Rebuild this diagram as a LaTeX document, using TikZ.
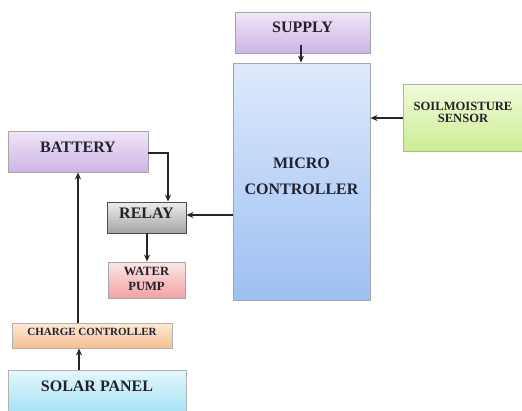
\documentclass[tikz,border=0pt]{standalone}
\usepackage{fontspec}
\setmainfont{Liberation Serif}
\usetikzlibrary{arrows.meta,shadings}
\definecolor{txt}{HTML}{22222C}
\tikzset{
  box/.style={draw=#1, line width=0.9pt, inner sep=0pt, anchor=center},
  purp/.style={box=black!35, top color=purpTop, bottom color=purpBot},
  blu/.style={box=black!35, top color=bluTop, bottom color=bluBot},
  grn/.style={box=black!30, top color=grnTop, bottom color=grnBot},
  gry/.style={box=black!70, top color=gryTop, bottom color=gryBot},
  pnk/.style={box=black!35, top color=pnkTop, bottom color=pnkBot},
  org/.style={box=black!30, top color=orgTop, bottom color=orgBot},
  cya/.style={box=black!30, top color=cyaTop, bottom color=cyaBot},
  big/.style={font=\bfseries\fontsize{16}{26}\selectfont, text=txt, align=center, inner sep=0pt},
  mid/.style={font=\bfseries\fontsize{12.6}{12}\selectfont, text=txt, align=center, inner sep=0pt},
  midp/.style={font=\bfseries\fontsize{12.6}{15}\selectfont, text=txt, align=center, inner sep=0pt},
  sml/.style={font=\bfseries\fontsize{11}{12}\selectfont, text=txt, align=center, inner sep=0pt},
  conn/.style={line width=1.8pt, draw=black!85, -{Stealth[length=7pt,width=6pt]}},
}
\definecolor{purpTop}{HTML}{F0E5F8}\definecolor{purpBot}{HTML}{CDB4E6}
\definecolor{bluTop}{HTML}{DEEAFB}\definecolor{bluBot}{HTML}{9DBFF3}
\definecolor{grnTop}{HTML}{F1FBDA}\definecolor{grnBot}{HTML}{CCED94}
\definecolor{gryTop}{HTML}{EDEDED}\definecolor{gryBot}{HTML}{A5A5A5}
\definecolor{pnkTop}{HTML}{FDE6E6}\definecolor{pnkBot}{HTML}{F2A2A2}
\definecolor{orgTop}{HTML}{FDEAD6}\definecolor{orgBot}{HTML}{F5BF8D}
\definecolor{cyaTop}{HTML}{E3F8FD}\definecolor{cyaBot}{HTML}{A5E1F3}
\begin{document}
\begin{tikzpicture}[x=1pt,y=-1pt]
\useasboundingbox (0,0) rectangle (522,410);
\begin{scope}
\clip (0,0) rectangle (522,410);
\node[purp, minimum width=135pt, minimum height=41pt] (supply) at (302.5,32.5) {};
\node[blu, minimum width=137pt, minimum height=237pt] (micro) at (301.5,181.5) {};
\node[grn, minimum width=120pt, minimum height=67pt] (soil) at (463,117.5) {};
\node[purp, minimum width=140pt, minimum height=41pt] (battery) at (78,151.5) {};
\node[gry, minimum width=79pt, minimum height=31pt] (relay) at (146.5,217.5) {};
\node[pnk, minimum width=77pt, minimum height=36pt] (pump) at (146.5,280) {};
\node[org, minimum width=160pt, minimum height=25pt] (charge) at (92,335.5) {};
\node[cya, minimum width=178pt, minimum height=43pt] (solar) at (97,391.5) {};
\end{scope}

\node[big] (supplyT) at (302.5,27) {SUPPLY};
\node[big] (microT) at (301.5,176) {MICRO\\CONTROLLER};
\node[mid] (soilT) at (463,112.5) {SOILMOISTURE\\SENSOR};
\node[big] (batteryT) at (78,147) {BATTERY};
\node[big] (relayT) at (146.5,213) {RELAY};
\node[midp] (pumpT) at (146.5,278.5) {WATER\\PUMP};
\node[sml] (chargeT) at (92,332) {CHARGE CONTROLLER};
\node[big] (solarT) at (97,386) {SOLAR PANEL};

\coordinate (supplyOut) at (301,45);
\draw[conn] (supplyOut) -- (micro.north -| 301,0);
\draw[conn] (soil.west) ++(0,0.5) -- (micro.east |- 0,118);
\draw[conn] (battery.east |- 0,153) -| (relay.north -| 168,0);
\draw[conn] (micro.west |- 0,215) -- (relay.east |- 0,215);
\draw[conn] (relay.south -| 147,0) -- (pump.north -| 147,0);
\draw[conn] (charge.north -| 78,0) -- (battery.south -| 78,0);
\draw[conn] (solar.north -| 79,0) -- (charge.south -| 79,0);
\end{tikzpicture}
\end{document}
